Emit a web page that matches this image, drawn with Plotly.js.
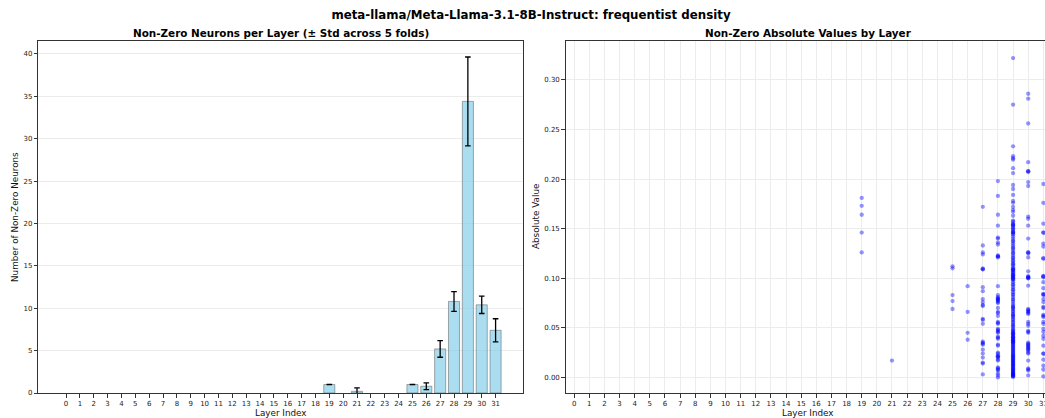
<!DOCTYPE html>
<html>
<head>
<meta charset="utf-8">
<script src="https://cdn.plot.ly/plotly-3.0.1.min.js"></script>
<style>
  html, body { margin: 0; padding: 0; background: #ffffff; }
  #chart { width: 1045px; height: 418px; }
</style>
</head>
<body>
<div id="chart"></div>
<script>
// Layer indices shown on both x axes
const layers = Array.from({length: 32}, (_, i) => i);

// Mean number of non-zero neurons per layer and its std across 5 folds
const neuronMean = [0,0,0,0,0,0,0,0,0,0,0,0,0,0,0,0,0,0,0,1.0,0,0.2,0,0,0,1.0,0.8,5.2,10.8,34.4,10.4,7.4];
const neuronStd  = [0,0,0,0,0,0,0,0,0,0,0,0,0,0,0,0,0,0,0,0,0,0.4,0,0,0,0,0.4,0.98,1.17,5.24,1.02,1.36];

// Absolute values of the non-zero neurons, per layer
const absVals19 = [0.181, 0.173, 0.164, 0.146, 0.126];
const absVals21 = [0.017];
const absVals25 = [0.112, 0.110, 0.083, 0.077, 0.069];
const absVals26 = [0.092, 0.066, 0.045, 0.038];
const absVals27 = [0.172, 0.133, 0.126, 0.124, 0.110, 0.109, 0.109, 0.091, 0.087, 0.079, 0.076, 0.073,
                   0.072, 0.059, 0.058, 0.054, 0.036, 0.035, 0.034, 0.033, 0.028, 0.024, 0.020, 0.015,
                   0.014, 0.003];
const absVals28 = [0.198, 0.183, 0.164, 0.153, 0.141, 0.140, 0.136, 0.134, 0.123, 0.122, 0.122, 0.121,
                   0.092, 0.083, 0.081, 0.080, 0.079, 0.079, 0.078, 0.077, 0.076, 0.075, 0.070, 0.066,
                   0.065, 0.062, 0.056, 0.055, 0.054, 0.049, 0.048, 0.047, 0.046, 0.045, 0.041, 0.040,
                   0.039, 0.033, 0.032, 0.025, 0.024, 0.022, 0.021, 0.021, 0.020, 0.018, 0.017, 0.010,
                   0.009, 0.008, 0.007, 0.004, 0.002, 0.000];
const absVals29 = [0.322, 0.275, 0.233, 0.223, 0.221, 0.2195, 0.211, 0.206, 0.194, 0.190, 0.184, 0.178,
                   0.176, 0.172, 0.169, 0.167, 0.163,
                   0.158, 0.157, 0.155, 0.154, 0.153, 0.151, 0.150, 0.149, 0.147, 0.146, 0.145, 0.144,
                   0.142, 0.140, 0.138, 0.137, 0.135, 0.133, 0.131, 0.130, 0.128, 0.126, 0.125, 0.123,
                   0.121, 0.120, 0.118, 0.117, 0.115, 0.114, 0.113, 0.111, 0.110, 0.109, 0.108, 0.107,
                   0.106, 0.105, 0.104, 0.103, 0.102, 0.101, 0.100, 0.099, 0.098, 0.096, 0.094, 0.093,
                   0.091, 0.089, 0.088, 0.086, 0.084, 0.083, 0.081, 0.079, 0.078, 0.076, 0.074, 0.072,
                   0.071, 0.069, 0.067, 0.066, 0.064, 0.063, 0.061, 0.059, 0.058, 0.056, 0.055, 0.053,
                   0.052, 0.051, 0.049, 0.048, 0.047, 0.046, 0.045, 0.044, 0.043, 0.042, 0.041, 0.040,
                   0.039, 0.038, 0.037, 0.036, 0.035, 0.034, 0.033, 0.032, 0.031, 0.030, 0.029, 0.028,
                   0.027, 0.026, 0.025, 0.024, 0.023, 0.022, 0.021, 0.020, 0.019, 0.018, 0.017, 0.016,
                   0.015, 0.014, 0.013, 0.012, 0.011, 0.010, 0.009, 0.008, 0.007, 0.006, 0.005, 0.004,
                   0.003, 0.002, 0.001, 0.0005, 0.1535, 0.1465, 0.1085, 0.1025, 0.0995, 0.0445, 0.0405,
                   0.0375, 0.0355, 0.0215, 0.0185, 0.0155, 0.0125, 0.0085, 0.0055, 0.0035, 0.0025,
                   0.0015, 0.062, 0.070];
const absVals30 = [0.286, 0.281, 0.256, 0.217, 0.208, 0.208, 0.207, 0.197, 0.193, 0.162, 0.160, 0.153,
                   0.140, 0.126, 0.126, 0.125, 0.121, 0.107, 0.102, 0.101, 0.101, 0.100, 0.100, 0.0925,
                   0.069, 0.068, 0.067, 0.066, 0.065, 0.064, 0.056, 0.054, 0.052, 0.047, 0.046, 0.045,
                   0.035, 0.034, 0.033, 0.032, 0.031, 0.030, 0.029, 0.028, 0.027, 0.025, 0.024, 0.017,
                   0.009, 0.008, 0.007, 0.002];
const absVals31 = [0.195, 0.176, 0.155, 0.146, 0.146, 0.135, 0.132, 0.120, 0.120, 0.102, 0.102, 0.101,
                   0.096, 0.090, 0.084, 0.084, 0.083, 0.079, 0.076, 0.071, 0.070, 0.063, 0.062, 0.061,
                   0.056, 0.054, 0.049, 0.046, 0.042, 0.039, 0.032, 0.024, 0.024, 0.018, 0.012, 0.008,
                   0.001];

const absByLayer = {19: absVals19, 21: absVals21, 25: absVals25, 26: absVals26,
                    27: absVals27, 28: absVals28, 29: absVals29, 30: absVals30, 31: absVals31};

// Flatten into scatter coordinates
const scatX = [], scatY = [];
Object.keys(absByLayer).forEach(k => {
  absByLayer[k].forEach(v => { scatX.push(Number(k)); scatY.push(v); });
});

// Empty layers get no error bar and no outline (they would sit on the axis line)
const errArray = neuronStd.map((s, i) => (neuronMean[i] === 0 && s === 0) ? NaN : s);
const edgeWidths = neuronMean.map(v => v === 0 ? 0 : 1);

const FONT = 'DejaVu Sans, sans-serif';
const W = 1045, H = 418;
const px = x => x / W;
const py = y => 1 - y / H;

const tickFont = {family: FONT, size: 7, color: '#222'};
const axisTitleFont = {family: FONT, size: 8.8, color: '#111'};
const subTitleFont = {family: FONT, size: 10.4, color: '#000'};
const axisCommon = {
  showline: true, linecolor: '#333', linewidth: 1,
  ticks: 'outside', ticklen: 3.5, tickwidth: 1, tickcolor: '#333',
  tickfont: tickFont, zeroline: false, automargin: false, ticklabeloverflow: 'allow'
};

const traces = [
  {
    type: 'bar', x: layers, y: neuronMean, width: 0.8,
    xaxis: 'x', yaxis: 'y',
    marker: {color: 'rgba(135,206,235,0.7)', line: {color: 'rgba(90,90,90,0.5)', width: edgeWidths}},
    error_y: {type: 'data', array: errArray, visible: true, color: '#000', thickness: 1.3, width: 2.8},
    hoverinfo: 'x+y'
  },
  {
    type: 'scatter', mode: 'markers', x: scatX, y: scatY,
    xaxis: 'x2', yaxis: 'y2',
    marker: {color: 'rgba(0,0,255,0.42)', size: 4.3, line: {width: 0}},
    cliponaxis: true,
    hoverinfo: 'x+y'
  }
];

const annotation = (text, x, y, font, angle) => ({
  text, x: px(x), y: py(y), xref: 'paper', yref: 'paper',
  xanchor: 'center', yanchor: 'middle', showarrow: false, font, textangle: angle || 0
});

const layout = {
  width: W, height: H,
  margin: {l: 0, r: 0, t: 0, b: 0},
  paper_bgcolor: '#ffffff', plot_bgcolor: '#ffffff',
  showlegend: false,
  font: {family: FONT},
  title: {
    text: '<b>meta-llama/Meta-Llama-3.1-8B-Instruct: frequentist density</b>',
    font: {family: FONT, size: 11.8, color: '#000'},
    x: px(531), xanchor: 'center', y: py(15), yanchor: 'middle', xref: 'paper', yref: 'container'
  },
  xaxis: Object.assign({}, axisCommon, {
    domain: [px(38.3), px(523.3)], range: [-2.0, 33.0], mirror: true,
    tickmode: 'array', tickvals: layers, ticktext: layers.map(String),
    showgrid: false, anchor: 'y'
  }),
  yaxis: Object.assign({}, axisCommon, {
    domain: [py(393), py(40.7)], range: [0, 41.56], mirror: true,
    tickmode: 'array', tickvals: [0,5,10,15,20,25,30,35,40],
    showgrid: true, gridcolor: '#ececec', gridwidth: 1, anchor: 'x'
  }),
  xaxis2: Object.assign({}, axisCommon, {
    domain: [px(565.7), 1], range: [-0.56, 31.11], mirror: true,
    tickmode: 'array', tickvals: layers, ticktext: layers.map(String),
    showgrid: true, gridcolor: '#ececec', gridwidth: 1, anchor: 'y2'
  }),
  yaxis2: Object.assign({}, axisCommon, {
    domain: [py(393), py(40.7)], range: [-0.0157, 0.3395], mirror: false,
    tickmode: 'array', tickvals: [0, 0.05, 0.10, 0.15, 0.20, 0.25, 0.30],
    ticktext: ['0.00', '0.05', '0.10', '0.15', '0.20', '0.25', '0.30'],
    showgrid: true, gridcolor: '#ececec', gridwidth: 1, anchor: 'x2'
  }),
  annotations: [
    annotation('<b>Non-Zero Neurons per Layer (± Std across 5 folds)</b>', 280.8, 33, subTitleFont),
    annotation('<b>Non-Zero Absolute Values by Layer</b>', 808, 33, subTitleFont),
    annotation('Layer Index', 280.8, 412.5, axisTitleFont),
    annotation('Layer Index', 808, 412.5, axisTitleFont),
    annotation('Number of Non-Zero Neurons', 15, 217, axisTitleFont, -90),
    annotation('Absolute Value', 536, 217, axisTitleFont, -90)
  ]
};

Plotly.newPlot('chart', traces, layout, {displayModeBar: false, staticPlot: true});
</script>
</body>
</html>
